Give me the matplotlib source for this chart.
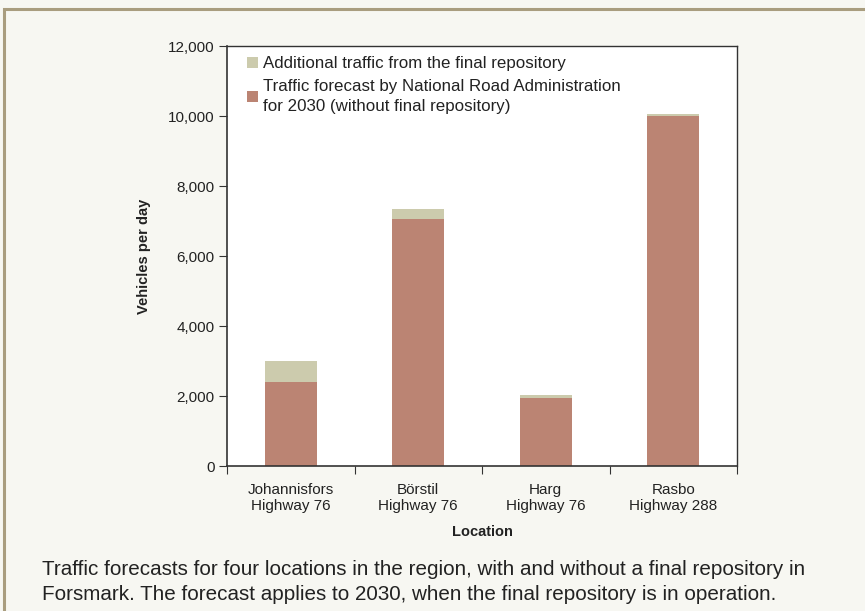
import matplotlib.pyplot as plt
from matplotlib.patches import Rectangle
import numpy as np

plt.rcParams['font.family'] = ['Liberation Sans', 'DejaVu Sans']

locations = ["Johannisfors\nHighway 76", "Börstil\nHighway 76", "Harg\nHighway 76", "Rasbo\nHighway 288"]
forecast_2030 = [2400, 7050, 1940, 10000]
additional = [600, 300, 90, 60]
yticks = [0, 2000, 4000, 6000, 8000, 10000, 12000]

bg = '#f7f7f2'
c_base = '#bb8473'
c_add = '#cccbad'
txt = '#222222'

fig = plt.figure(figsize=(8.65, 6.11), dpi=100, facecolor=bg)
# outer frame
fig.patches.append(Rectangle((4/865, -0.1), 1.2, (611-9)/611 + 0.1, transform=fig.transFigure,
                             fill=False, edgecolor='#a99d7f', linewidth=2.2))

ax = fig.add_axes([227/865, 1-466/611, (737-227)/865, (466-46)/611])
ax.set_facecolor('white')
x = np.arange(len(locations))
w = 0.41
ax.bar(x, forecast_2030, width=w, color=c_base, label='Traffic forecast by National Road Administration\nfor 2030 (without final repository)')
ax.bar(x, additional, width=w, bottom=forecast_2030, color=c_add, label='Additional traffic from the final repository')

ax.set_xlim(-0.5, len(locations) - 0.5)
ax.set_ylim(0, 12000)
ax.set_yticks(yticks)
ax.set_yticklabels([f"{v:,}" for v in yticks], fontsize=11, color=txt)
ax.set_xticks(np.arange(-0.5, len(locations), 1.0))
ax.set_xticklabels([])
ax.set_xticks(x, minor=True)
ax.set_xticklabels(locations, minor=True, fontsize=11, color=txt)
ax.tick_params(axis='x', which='minor', length=0, pad=12)
ax.tick_params(axis='x', which='major', length=6, direction='out', color='#333333')
ax.tick_params(axis='y', length=6, direction='out', color='#333333', pad=3)
for s in ax.spines.values():
    s.set_color('#333333')
    s.set_linewidth(1.0)
ax.spines['left'].set_linewidth(1.2)
ax.spines['bottom'].set_linewidth(1.2)

ax.set_ylabel('Vehicles per day', fontsize=10.5, fontweight='bold', labelpad=12, color=txt)
ax.set_xlabel('Location', fontsize=10.5, fontweight='bold', labelpad=9, color=txt)

h, l = ax.get_legend_handles_labels()
leg = ax.legend(h[::-1], l[::-1], loc='upper left', frameon=False, fontsize=12.2,
                handlelength=0.6, handleheight=0.6, handletextpad=0.3, borderaxespad=0.2,
                labelspacing=0.45, bbox_to_anchor=(0.02, 1.0), labelcolor=txt)
for t in leg.get_texts():
    t.set_linespacing(1.45)

fig.text(42/865, 1-582/611, "Traffic forecasts for four locations in the region, with and without a final repository in\nForsmark. The forecast applies to 2030, when the final repository is in operation.",
         fontsize=14.9, va='center', ha='left', color=txt, linespacing=1.35)

fig.savefig('out.png', dpi=100, facecolor=bg)
